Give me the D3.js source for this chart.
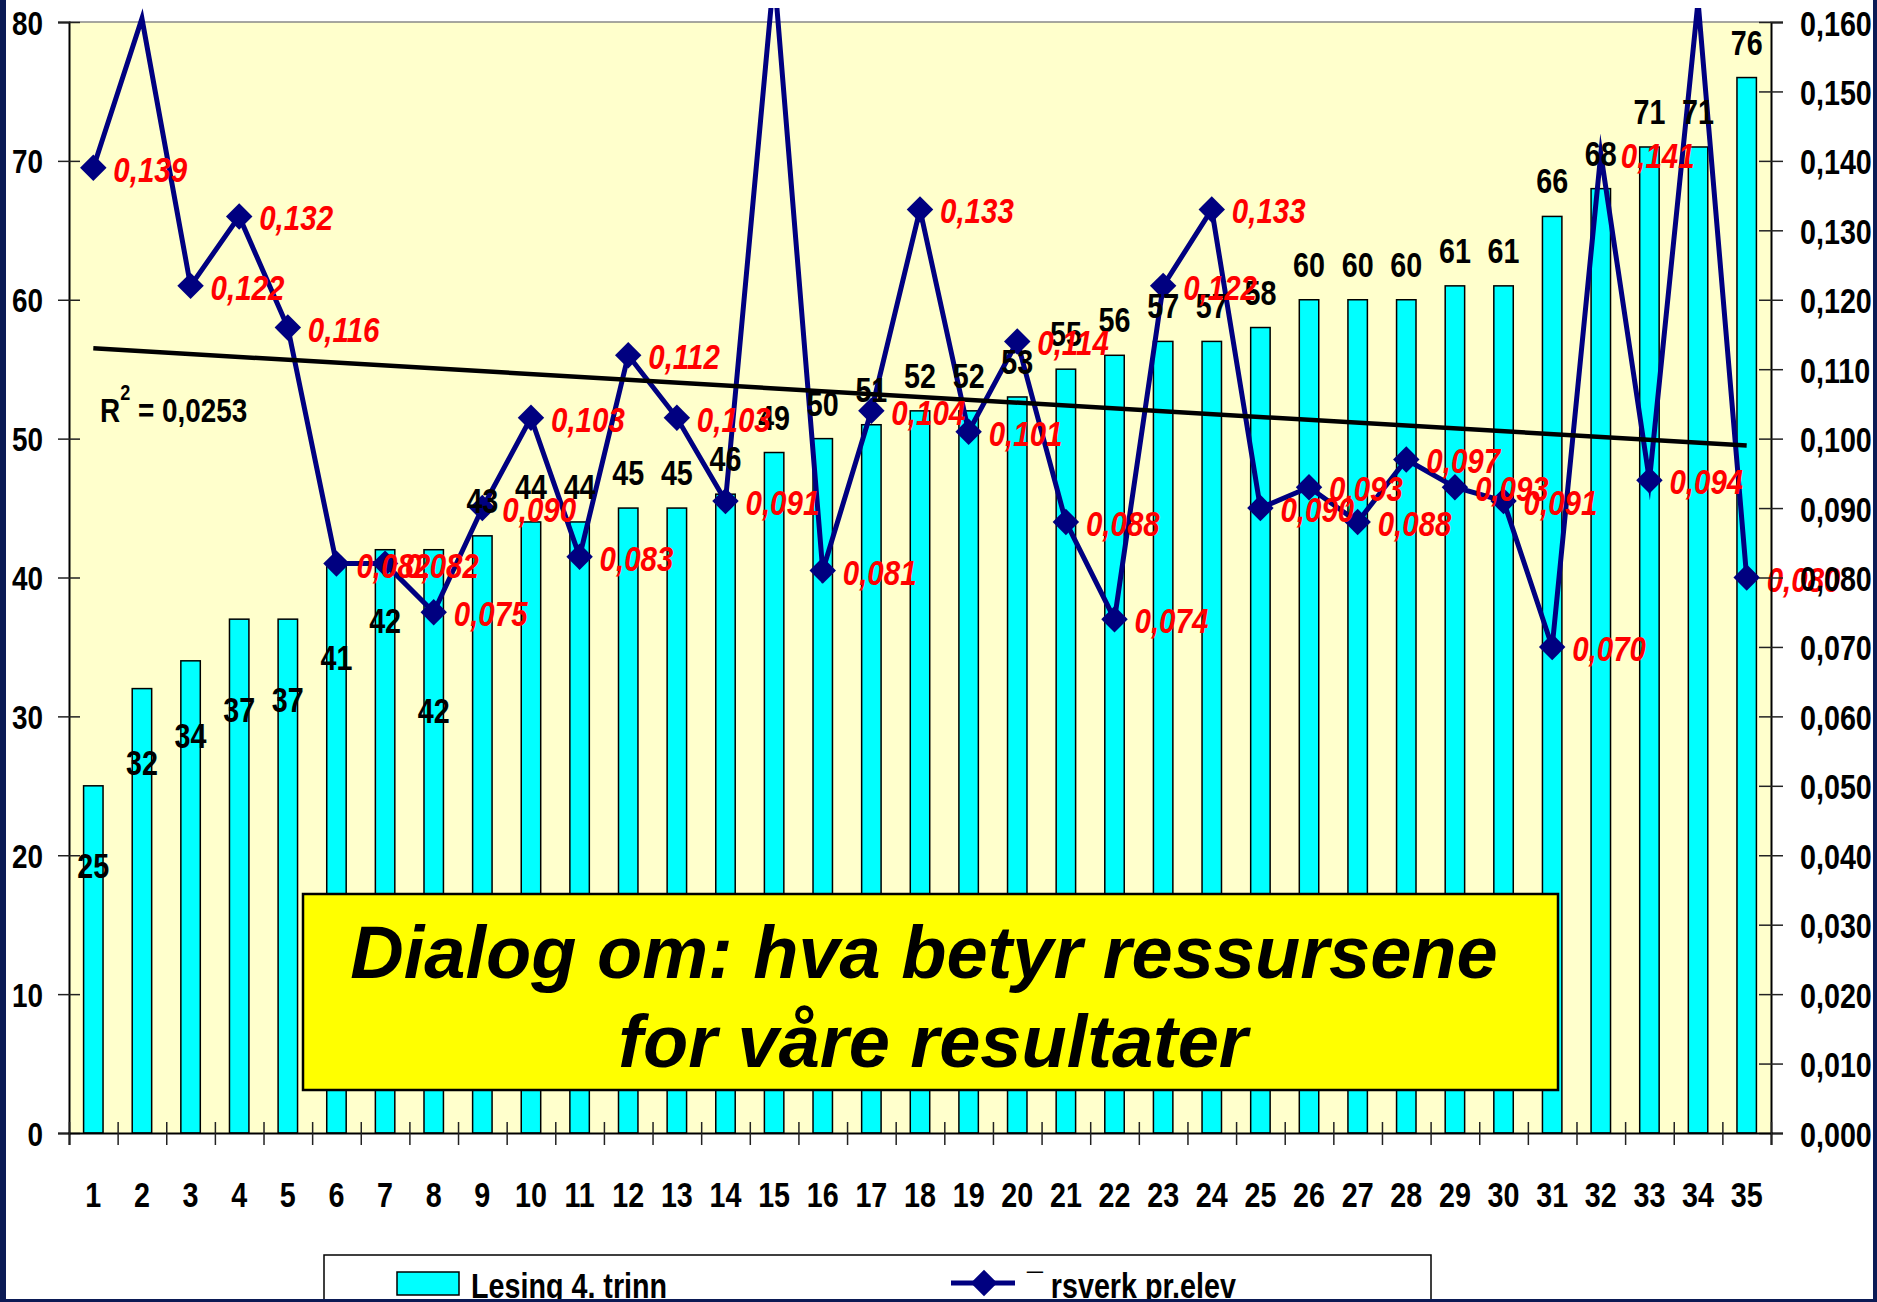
<!DOCTYPE html>
<html>
<head>
<meta charset="utf-8">
<script src="https://cdn.jsdelivr.net/npm/d3@7"></script>
<style>
  html, body { margin: 0; padding: 0; background: #fff; }
  svg { display: block; }
  text { font-family: "Liberation Sans", Arial, sans-serif; font-weight: bold; }
</style>
</head>
<body>
<div id="chart"></div>
<script>
// data
const categories = ['1', '2', '3', '4', '5', '6', '7', '8', '9', '10', '11', '12', '13', '14', '15', '16', '17', '18',
  '19', '20', '21', '22', '23', '24', '25', '26', '27', '28', '29', '30', '31', '32', '33', '34', '35'];
const lesing = [25, 32, 34, 37, 37, 41, 42, 42, 43, 44, 44, 45, 45, 46, 49, 50, 51, 52, 52, 53, 55, 56, 57, 57, 58,
  60, 60, 60, 61, 61, 66, 68, 71, 71, 76];
// points 2, 15 and 34 run off the top of the axis (estimated from the slope of the line)
const arsverk = [0.139, 0.1605, 0.122, 0.132, 0.116, 0.082, 0.082, 0.075, 0.090, 0.103, 0.083, 0.112, 0.103, 0.091,
  0.167, 0.081, 0.104, 0.133, 0.101, 0.114, 0.088, 0.074, 0.122, 0.133, 0.090, 0.093, 0.088, 0.097, 0.093, 0.091,
  0.070, 0.141, 0.094, 0.163, 0.080];
const trendEnds = [0.113, 0.099];
const leftTicks = [0, 10, 20, 30, 40, 50, 60, 70, 80];
const rightTicks = [0, 0.01, 0.02, 0.03, 0.04, 0.05, 0.06, 0.07, 0.08, 0.09, 0.10, 0.11, 0.12, 0.13, 0.14, 0.15, 0.16];
const seriesNames = ['Lesing 4. trinn', '\u00AF rsverk pr.elev'];
const rSquaredText = ['R', '2', ' = 0,0253'];
const calloutLines = ['Dialog om: hva betyr ressursene', 'for våre resultater'];
const hiddenMarkers = ['32'];

// manual drags of the first bar labels in the original (px, downwards)
const barLabelNudge = [115, 109, 110, 126, 116, 129, 106, 196];

const W = 1877, H = 1302;
const plot = { left: 69, right: 1771, top: 22, bottom: 1133 };
const NARROW = 0.82;
const navy = '#000080';

const svg = d3.select('#chart').append('svg').attr('width', W).attr('height', H);
svg.append('rect').attr('width', W).attr('height', H).attr('fill', '#fff');

const x = d3.scaleBand().domain(categories).range([plot.left, plot.right]).paddingInner(0.6).paddingOuter(0.3);
const xEdge = d3.scaleLinear().domain([0, categories.length]).range([plot.left, plot.right]);
const yLeft = d3.scaleLinear().domain([0, 80]).range([plot.bottom, plot.top]);
const yRight = d3.scaleLinear().domain([0, 0.16]).range([plot.bottom, plot.top]);
const cx = c => x(c) + x.bandwidth() / 2;

const nb = d3.formatLocale({ decimal: ',', thousands: ' ', grouping: [3], currency: ['', ''] });
const fmt3 = nb.format('.3f');

const narrow = (tx, ty) => `translate(${tx},${ty}) scale(${NARROW},1)`;

// plot area
svg.append('rect')
  .attr('x', plot.left).attr('y', plot.top)
  .attr('width', plot.right - plot.left).attr('height', plot.bottom - plot.top)
  .attr('fill', '#FFFFCC');
svg.append('line')
  .attr('x1', plot.left).attr('x2', plot.right).attr('y1', plot.top).attr('y2', plot.top)
  .attr('stroke', '#888').attr('stroke-width', 1.5);

// bars
svg.append('g').selectAll('rect')
  .data(lesing)
  .join('rect')
  .attr('x', (d, i) => x(categories[i]))
  .attr('y', d => yLeft(d))
  .attr('width', x.bandwidth())
  .attr('height', d => plot.bottom - yLeft(d))
  .attr('fill', '#00FFFF')
  .attr('stroke', '#000')
  .attr('stroke-width', 1.5);

// line series, clipped just under the top of the picture
svg.append('clipPath').attr('id', 'lineclip')
  .append('rect').attr('x', 0).attr('y', 8).attr('width', W).attr('height', H);

const pts = arsverk.map((v, i) => ({ c: categories[i], v }));
const line = d3.line().x(d => cx(d.c)).y(d => yRight(d.v));

svg.append('path')
  .datum(pts)
  .attr('clip-path', 'url(#lineclip)')
  .attr('d', line)
  .attr('fill', 'none')
  .attr('stroke', navy)
  .attr('stroke-width', 5)
  .attr('stroke-linejoin', 'miter')
  .attr('stroke-miterlimit', 20);

const shown = pts.filter(d => d.v <= 0.16);
const diamond = d3.symbol(d3.symbolSquare, 350);

svg.append('g').selectAll('path')
  .data(shown.filter(d => !hiddenMarkers.includes(d.c)))
  .join('path')
  .attr('d', diamond)
  .attr('transform', d => `translate(${cx(d.c)},${yRight(d.v)}) rotate(45)`)
  .attr('fill', navy);

// linear trendline
const trend = [
  { c: categories[0], v: trendEnds[0] },
  { c: categories[categories.length - 1], v: trendEnds[1] }
];
svg.append('path')
  .datum(trend)
  .attr('d', line)
  .attr('fill', 'none')
  .attr('stroke', '#000')
  .attr('stroke-width', 4.5);

// bar labels
svg.append('g').selectAll('text')
  .data(lesing)
  .join('text')
  .attr('text-anchor', 'middle')
  .attr('font-size', 35)
  .attr('fill', '#000')
  .attr('transform', (d, i) => narrow(cx(categories[i]), yLeft(d) - 23 + (barLabelNudge[i] || 0)))
  .text(d => d);

// line labels
svg.append('g').selectAll('text')
  .data(shown)
  .join('text')
  .attr('font-size', 36)
  .attr('font-style', 'italic')
  .attr('fill', '#FF0000')
  .attr('transform', d => narrow(cx(d.c) + 20, yRight(d.v) + 14))
  .text(d => fmt3(d.v));

// R squared
const r2 = svg.append('text')
  .attr('font-size', 34)
  .attr('transform', narrow(100, 422));
r2.append('tspan').text(rSquaredText[0]);
r2.append('tspan').attr('font-size', 22).attr('dy', -22).text(rSquaredText[1]);
r2.append('tspan').attr('dy', 22).text(rSquaredText[2]);

// axes
const axisLeft = svg.append('g')
  .attr('transform', `translate(${plot.left},0)`)
  .call(d3.axisLeft(yLeft).tickValues(leftTicks).tickSizeOuter(0).tickSize(11));
axisLeft.selectAll('.tick line').attr('x1', 11).attr('stroke', '#222').attr('stroke-width', 1.5);
axisLeft.selectAll('.tick text')
  .attr('x', null).attr('dy', null)
  .attr('font-size', 34).attr('font-family', null).attr('fill', '#000')
  .attr('transform', narrow(-26, 12));
axisLeft.select('.domain').attr('stroke', '#000').attr('stroke-width', 2);

const axisRight = svg.append('g')
  .attr('transform', `translate(${plot.right},0)`)
  .call(d3.axisRight(yRight).tickValues(rightTicks).tickFormat(fmt3).tickSizeOuter(0).tickSize(12));
axisRight.selectAll('.tick line').attr('x1', -12).attr('stroke', '#222').attr('stroke-width', 1.5);
axisRight.selectAll('.tick text')
  .attr('x', null).attr('dy', null)
  .attr('font-size', 35).attr('font-family', null).attr('fill', '#000')
  .attr('transform', narrow(29, 13));
axisRight.select('.domain').attr('stroke', '#000').attr('stroke-width', 2);

const axisTicks = svg.append('g')
  .attr('transform', `translate(0,${plot.bottom})`)
  .call(d3.axisBottom(xEdge).tickValues(d3.range(categories.length + 1)).tickFormat('').tickSizeOuter(0).tickSize(12));
axisTicks.selectAll('.tick line').attr('y1', -11).attr('stroke', '#222').attr('stroke-width', 1.5);
axisTicks.select('.domain').attr('stroke', '#000').attr('stroke-width', 2);

const axisBottom = svg.append('g')
  .attr('transform', `translate(0,${plot.bottom})`)
  .call(d3.axisBottom(x).tickSize(0));
axisBottom.select('.domain').remove();
axisBottom.selectAll('.tick text')
  .attr('y', null).attr('dy', null)
  .attr('font-size', 35).attr('font-family', null).attr('fill', '#000')
  .attr('transform', narrow(0, 74));

// callout box
svg.append('rect')
  .attr('x', 303).attr('y', 894).attr('width', 1255).attr('height', 196)
  .attr('fill', '#FFFF00').attr('stroke', '#000').attr('stroke-width', 2.5);
svg.append('g').selectAll('text')
  .data(calloutLines)
  .join('text')
  .attr('x', (d, i) => i === 0 ? 924 : 933)
  .attr('y', (d, i) => 978 + i * 89)
  .attr('text-anchor', 'middle')
  .attr('font-size', 74)
  .attr('font-style', 'italic')
  .attr('fill', '#000')
  .text(d => d);

// legend (cut by the bottom edge in the original)
const legend = svg.append('g');
legend.append('rect')
  .attr('x', 324).attr('y', 1255).attr('width', 1107).attr('height', 80)
  .attr('fill', '#fff').attr('stroke', '#000').attr('stroke-width', 1.5);
legend.append('rect')
  .attr('x', 397).attr('y', 1272).attr('width', 62).attr('height', 23)
  .attr('fill', '#00FFFF').attr('stroke', '#000').attr('stroke-width', 1.5);
legend.append('text')
  .attr('font-size', 35)
  .attr('transform', narrow(471, 1298))
  .text(seriesNames[0]);
legend.append('line')
  .attr('x1', 951).attr('x2', 1015).attr('y1', 1283).attr('y2', 1283)
  .attr('stroke', navy).attr('stroke-width', 5);
legend.append('path')
  .attr('d', diamond)
  .attr('transform', 'translate(984,1283) rotate(45)')
  .attr('fill', navy);
legend.append('text')
  .attr('font-size', 35)
  .attr('transform', narrow(1027, 1298))
  .text(seriesNames[1]);

// slide frame
const frame = '#0B1A55';
svg.append('rect').attr('x', 0).attr('y', 0).attr('width', 6).attr('height', H).attr('fill', frame);
svg.append('rect').attr('x', W - 4).attr('y', 0).attr('width', 4).attr('height', H).attr('fill', frame);
svg.append('rect').attr('x', 0).attr('y', H - 3).attr('width', W).attr('height', 3).attr('fill', frame);
</script>
</body>
</html>
